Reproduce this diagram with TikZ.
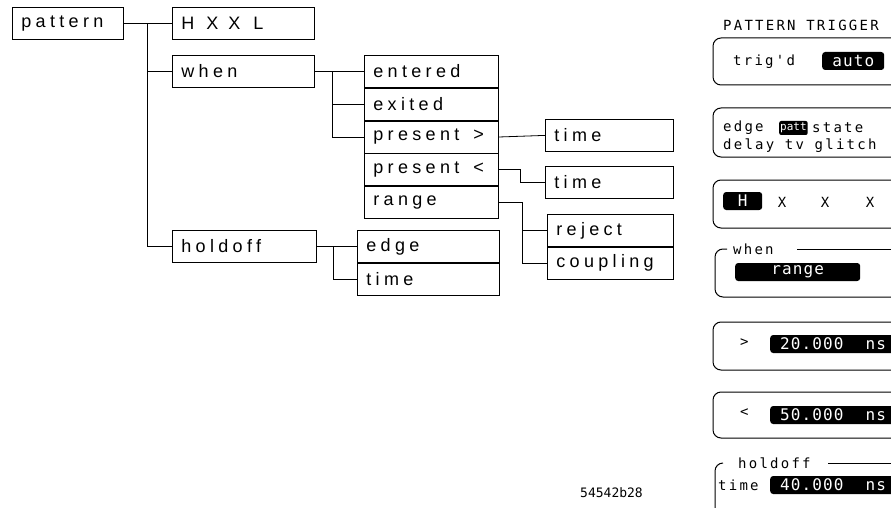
\documentclass[tikz,border=0pt]{standalone}
\usepackage{fontspec}
\setmainfont{Liberation Sans}
\newfontfamily\plotfont[LetterSpace=24]{Liberation Sans}
\newfontfamily\screenfont[LetterSpace=16]{DejaVu Sans Mono}
\newfontfamily\valuefont[LetterSpace=7]{DejaVu Sans Mono}
\newfontfamily\screentight{DejaVu Sans Mono}
\usetikzlibrary{positioning}

\tikzset{
  menubox/.style={draw, line width=0.8pt, anchor=north west, minimum height=32pt,
    inner xsep=9pt, inner ysep=0pt, text width=#1, align=left,
    font=\plotfont\fontsize{18}{20}\selectfont},
  link/.style={draw, line width=0.8pt},
  panel/.style={draw, line width=1pt, rounded corners=8pt},
  scrtext/.style={anchor=west, inner sep=0pt, font=\screenfont\fontsize{14}{16}\selectfont},
  invbox/.style={anchor=west, fill=black, text=white, rounded corners=3pt,
    inner xsep=10pt, inner ysep=1pt, minimum height=18pt,
    font=\valuefont\fontsize{16}{18}\selectfont},
}

\begin{document}
\begin{tikzpicture}[x=1pt, y=-1pt]
  \useasboundingbox (0,0) rectangle (891,508);
  \clip (0,0) rectangle (891,508);

  % menu tree
  \node[menubox=93pt] (pattern) at (12,7) {pattern};
  \node[menubox=124pt] (hxxl) at (172,7) {H\hspace{12pt}X\hspace{10pt}X\hspace{13pt}L};
  \node[menubox=124pt] (when) at (172,55) {when};
  \node[menubox=126pt] (holdoff) at (172,230) {holdoff};

  \node[menubox=116pt] (entered) at (364,55) {entered};
  \node[menubox=116pt, below=0pt of entered] (exited) {exited};
  \node[menubox=116pt, below=0pt of exited] (presgt) {\mbox{present\hspace{14pt}>}};
  \node[menubox=116pt, below=0pt of presgt] (preslt) {\mbox{present\hspace{14pt}<}};
  \node[menubox=116pt, below=0pt of preslt] (range) {range};

  \node[menubox=110pt] (timegt) at (545,119) {time};
  \node[menubox=110pt] (timelt) at (545,166) {time};
  \node[menubox=108pt] (reject) at (547,214) {reject};
  \node[menubox=108pt, below=0pt of reject] (coupling) {coupling};

  \node[menubox=124pt] (edge) at (357,230) {edge};
  \node[menubox=124pt, below=0pt of edge] (holdtime) {time};

  % connectors
  \coordinate (pj) at (147,0);
  \draw[link] (pattern.east) -- (hxxl.west);
  \draw[link] (pj |- hxxl.west) |- (when.west);
  \draw[link] (pj |- when.west) |- (holdoff.west);

  \coordinate (wj) at (332,0);
  \draw[link] (when.east) -- (entered.west);
  \draw[link] (wj |- entered.west) |- (exited.west);
  \draw[link] (wj |- exited.west) |- (presgt.west);

  \draw[link] (presgt.east) -- (timegt.west);
  \coordinate (lj) at (520,0);
  \draw[link] (preslt.east) -| (lj |- timelt.west) -- (timelt.west);
  \coordinate (rj) at (522,0);
  \draw[link] (range.east) -| (rj |- coupling.west) -- (coupling.west);
  \draw[link] (rj |- reject.west) -- (reject.west);

  \coordinate (hj) at (333,0);
  \draw[link] (holdoff.east) -- (edge.west);
  \draw[link] (hj |- edge.west) |- (holdtime.west);

  % trigger screen
  \node[scrtext] (title) at (723,25) {PATTERN TRIGGER};

  \draw[panel] (713,38) rectangle (910,85);
  \node[scrtext] (trigd) at (733,62) {trig'd};
  \node[invbox, minimum width=62pt, inner xsep=2pt] (auto) at (822,61) {auto};

  \draw[panel] (713,108) rectangle (910,157);
  \node[scrtext] (edgeopt) at (723,128) {edge};
  \node[invbox, inner xsep=1pt, minimum height=14pt, rounded corners=2pt,
    font=\screentight\fontsize{11}{13}\selectfont] (patt) at (779,128) {patt};
  \node[scrtext] (stateopt) at (812,128) {state};
  \node[scrtext] (lineopt) at (723,146) {delay tv glitch};

  \draw[panel] (713,180) rectangle (910,228);
  \node[invbox, minimum width=39pt, inner xsep=2pt] (bitH) at (723,201) {H};
  \node[scrtext, anchor=center] (bitA) at (782,202) {X};
  \node[scrtext, anchor=center] (bitB) at (825,202) {X};
  \node[scrtext, anchor=center] (bitC) at (870,202) {X};

  \draw[panel] (727,249) -- (715,249) -- (715,297) -- (910,297);
  \draw[line width=1pt] (797,249) -- (910,249);
  \node[scrtext] (whenlbl) at (733,249) {when};
  \node[invbox, minimum width=125pt, inner xsep=2pt] (rangesel) at (735,272) {range};

  \draw[panel] (713,322) rectangle (910,370);
  \node[scrtext] (gtlbl) at (740,343) {>};
  \node[invbox] (gtval) at (770,344) {20.000\hspace{22pt}ns};

  \draw[panel] (713,392) rectangle (910,438);
  \node[scrtext] (ltlbl) at (740,413) {<};
  \node[invbox] (ltval) at (770,415) {50.000\hspace{22pt}ns};

  \draw[panel] (723,463) -- (715,463) -- (715,530);
  \draw[line width=1pt] (828,463) -- (910,463);
  \node[scrtext] (holdlbl) at (738,463) {holdoff};
  \node[scrtext] (timelbl) at (718,485) {time};
  \node[invbox] (holdval) at (770,485) {40.000\hspace{22pt}ns};

  \node[anchor=west, inner sep=0pt, font=\screentight\fontsize{13}{15}\selectfont]
    (figno) at (580,493) {54542b28};
\end{tikzpicture}
\end{document}
